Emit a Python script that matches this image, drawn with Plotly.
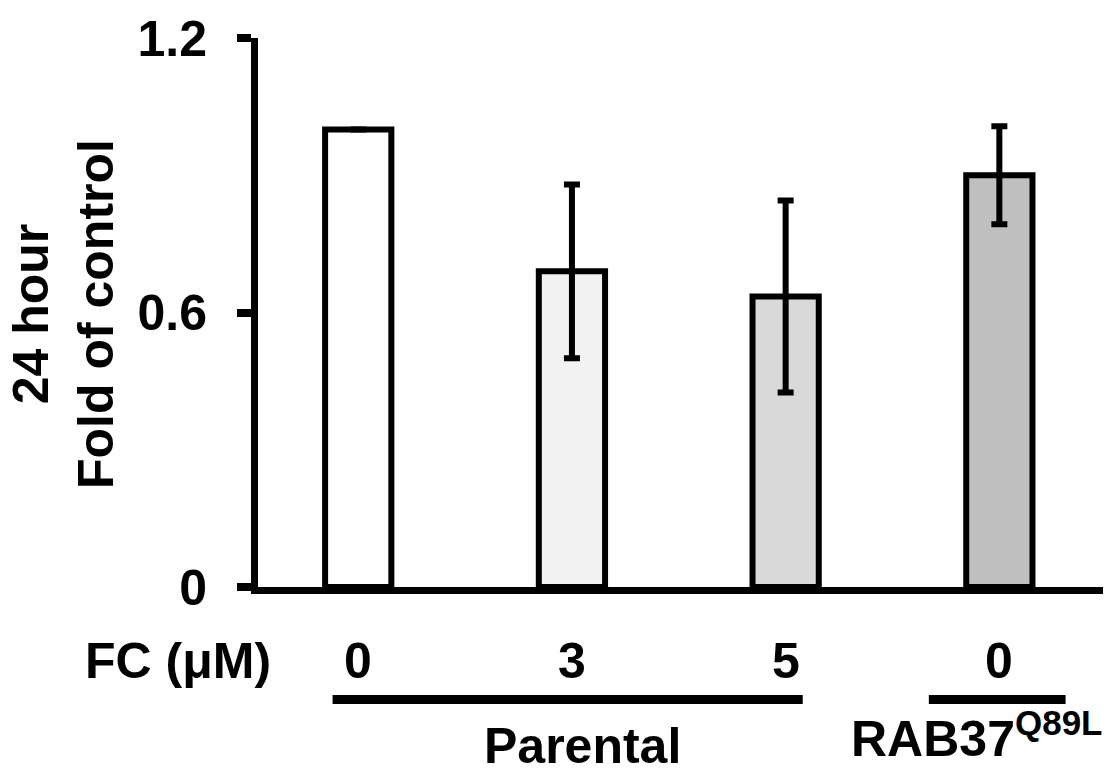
import plotly.graph_objects as go

# Data
categories = ["Parental 0", "Parental 3", "Parental 5", "RAB37 0"]
fc_labels = ["0", "3", "5", "0"]
fold_of_control = [1.00, 0.69, 0.635, 0.90]
sem = [None, 0.19, 0.21, 0.107]
bar_colors = ["#ffffff", "#f2f2f2", "#d9d9d9", "#bfbfbf"]
y_ticks = [0, 0.6, 1.2]
y_tick_text = ["0", "0.6", "1.2"]
groups = ["Parental", "RAB37<sup>Q89L</sup>"]

W, H = 1112, 776
L, R, T, B = 258, 9, 38, 189
plot_h = H - T - B

def py(pixel_y):
    """Convert a page pixel row into paper coordinates."""
    return (H - B - pixel_y) / plot_h

FONT = dict(family="Liberation Sans, Arial, sans-serif", size=50, color="black", weight="bold")

x_idx = list(range(len(categories)))

fig = go.Figure(
    go.Bar(
        x=x_idx,
        y=fold_of_control,
        width=0.31,
        marker=dict(color=bar_colors, line=dict(color="black", width=6)),
        error_y=dict(type="data", array=sem, visible=True,
                     color="black", thickness=6, width=8),
        hoverinfo="skip",
    )
)

annotations = []

# FC concentration row
annotations.append(dict(x=-0.40, y=py(661), xref="x", yref="paper",
                        text="FC (μM)", showarrow=False, xanchor="right",
                        yanchor="middle", font=FONT))
for i, lab in zip(x_idx, fc_labels):
    annotations.append(dict(x=i, y=py(661), xref="x", yref="paper",
                            text=lab, showarrow=False, xanchor="center",
                            yanchor="middle", font=FONT))

# Group underlines and names (the superscript label sits a little higher
# so its baseline lines up with the plain one)
group_spans = [(-0.12, 2.08), (2.67, 3.31)]
group_label_x = [1.05, 2.895]
group_label_y = [746, 735]
shapes = []
for (x0, x1), gx, gy, name in zip(group_spans, group_label_x, group_label_y, groups):
    shapes.append(dict(type="line", xref="x", yref="paper",
                       x0=x0, x1=x1, y0=py(699.5), y1=py(699.5),
                       line=dict(color="black", width=9)))
    annotations.append(dict(x=gx, y=py(gy), xref="x", yref="paper",
                            text=name, showarrow=False, xanchor="center",
                            yanchor="middle", font=FONT))

# Y axis title
annotations.append(dict(x=(63 - L) / (W - L - R), y=py(314), xref="paper", yref="paper",
                        text="24 hour<br>Fold of control", textangle=-90,
                        showarrow=False, xanchor="center", yanchor="middle",
                        font=FONT))

fig.update_layout(
    width=W, height=H,
    margin=dict(l=L, r=R, t=T, b=B, pad=0),
    paper_bgcolor="white", plot_bgcolor="white",
    showlegend=False,
    shapes=shapes,
    annotations=annotations,
    xaxis=dict(range=[-0.469, 3.485], showline=True, linecolor="black", linewidth=7,
               showticklabels=False, ticks="", showgrid=False, zeroline=False,
               fixedrange=True),
    yaxis=dict(range=[0, 1.2], showline=True, linecolor="black", linewidth=7,
               tickvals=y_ticks, ticktext=y_tick_text, ticks="outside",
               ticklen=14, tickwidth=8, tickcolor="black", ticklabelstandoff=20,
               tickfont=FONT, showgrid=False, zeroline=False, fixedrange=True),
)

fig.write_html("out.html", config={"displayModeBar": False})
